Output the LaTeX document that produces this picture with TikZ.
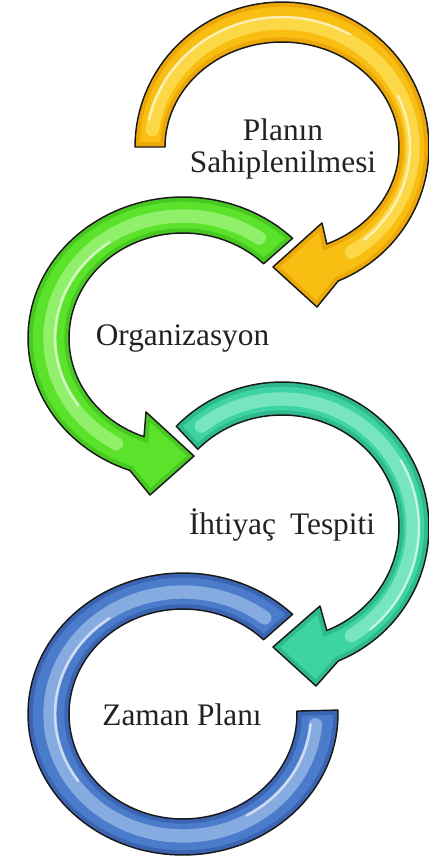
\documentclass[tikz,border=0pt]{standalone}
\usepackage{fontspec}
\setmainfont{Liberation Serif}
\newfontfamily\lblfont{Liberation Serif}
\definecolor{orA}{HTML}{F9BE12}
\definecolor{orD}{HTML}{E29600}
\definecolor{orL}{HTML}{FFF27A}
\definecolor{grA}{HTML}{5BE22B}
\definecolor{grD}{HTML}{39B51A}
\definecolor{grL}{HTML}{C8FFA8}
\definecolor{tlA}{HTML}{3DD3A2}
\definecolor{tlD}{HTML}{22A77E}
\definecolor{tlL}{HTML}{B4F7E0}
\definecolor{blA}{HTML}{4B7BCB}
\definecolor{blD}{HTML}{2E539F}
\definecolor{blL}{HTML}{C2DCF8}
\definecolor{txt}{HTML}{222222}
% ring outlines (pixel coordinates, y downwards)
\newcommand{\pOrange}{plot[domain=180:427.5,samples=90]({282+147*cos(\x)},{147+145*sin(\x)}) -- (317,307) -- (273,267) -- (322,223) -- plot[domain=427.5:180,samples=90]({282+117*cos(\x)},{147+105*sin(\x)}) -- cycle}
\newcommand{\pGreen}{plot[domain=-45:-250,samples=90]({183+155*cos(\x)},{338+141*sin(\x)}) -- (150,495) -- (194,456) -- (146,412) -- plot[domain=-250:-45,samples=90]({183+114*cos(\x)},{338+105*sin(\x)}) -- cycle}
\newcommand{\pTeal}{plot[domain=224:427.5,samples=90]({282+147*cos(\x)},{527+145*sin(\x)}) -- (316,686) -- (273,647) -- (320,606) -- plot[domain=427.5:224,samples=90]({282+117*cos(\x)},{527+112*sin(\x)}) -- cycle}
\newcommand{\pBlue}{plot[domain=-45:-361.6,samples=110]({183+155*cos(\x)},{714+141*sin(\x)}) -- plot[domain=-361.6:-45,samples=110]({183+114*cos(\x)},{714+105*sin(\x)}) -- cycle}
\begin{document}
\begin{tikzpicture}[x=0.75pt,y=-0.75pt,
  edge/.style={draw=black!90, line width=1.1pt, line join=round},
  rim/.style={line width=7pt, opacity=.55},
  glow/.style={line width=10pt, opacity=.5, line cap=round},
  shine/.style={draw=white, line width=1.8pt, opacity=.6, line cap=round},
  lbl/.style={font=\lblfont\fontsize{23.5}{28}\selectfont, text=txt, inner sep=0pt, anchor=base}]
\useasboundingbox (0,0) rectangle (429,858);
\fill[white] (0,0) rectangle (429,858);

% orange
\fill[orA] \pOrange;
\begin{scope}
  \clip \pOrange;
  \draw[orD, rim] \pOrange;
  \draw[orL, glow] plot[domain=188:418,samples=80]({282+131*cos(\x)},{147+124*sin(\x)});
  \draw[shine] plot[domain=192:300,samples=50]({282+136*cos(\x)},{147+130*sin(\x)});
  \draw[shine] plot[domain=335:410,samples=50]({282+128*cos(\x)},{147+121*sin(\x)});
\end{scope}
\draw[edge] \pOrange;

% green
\fill[grA] \pGreen;
\begin{scope}
  \clip \pGreen;
  \draw[grD, rim] \pGreen;
  \draw[grL, glow] plot[domain=-55:-240,samples=80]({183+133*cos(\x)},{338+122*sin(\x)});
  \draw[shine] plot[domain=-125:-215,samples=50]({183+128*cos(\x)},{338+117*sin(\x)});
\end{scope}
\draw[edge] \pGreen;

% teal
\fill[tlA] \pTeal;
\begin{scope}
  \clip \pTeal;
  \draw[tlD, rim] \pTeal;
  \draw[tlL, glow] plot[domain=232:418,samples=80]({282+131*cos(\x)},{527+128*sin(\x)});
  \draw[shine] plot[domain=330:410,samples=50]({282+137*cos(\x)},{527+134*sin(\x)});
\end{scope}
\draw[edge] \pTeal;

% blue
\fill[blA] \pBlue;
\begin{scope}
  \clip \pBlue;
  \draw[blD, rim] \pBlue;
  \draw[blL, glow] plot[domain=-52:-355,samples=100]({183+133*cos(\x)},{714+122*sin(\x)});
  \draw[shine] plot[domain=-125:-215,samples=50]({183+128*cos(\x)},{714+117*sin(\x)});
  \draw[shine] plot[domain=-300:-355,samples=40]({183+128*cos(\x)},{714+117*sin(\x)});
\end{scope}
\draw[edge] \pBlue;

% labels
\node[lbl] (plan1) at (283,140) {Planın};
\node[lbl] (plan2) at (283,172) {Sahiplenilmesi};
\node[lbl] (org) at (182.5,345) {Organizasyon};
\node[lbl] (iht) at (282,534) {İhtiyaç\hspace{0.45em}Tespiti};
\node[lbl] (zam) at (182,725) {Zaman Planı};
\end{tikzpicture}
\end{document}
